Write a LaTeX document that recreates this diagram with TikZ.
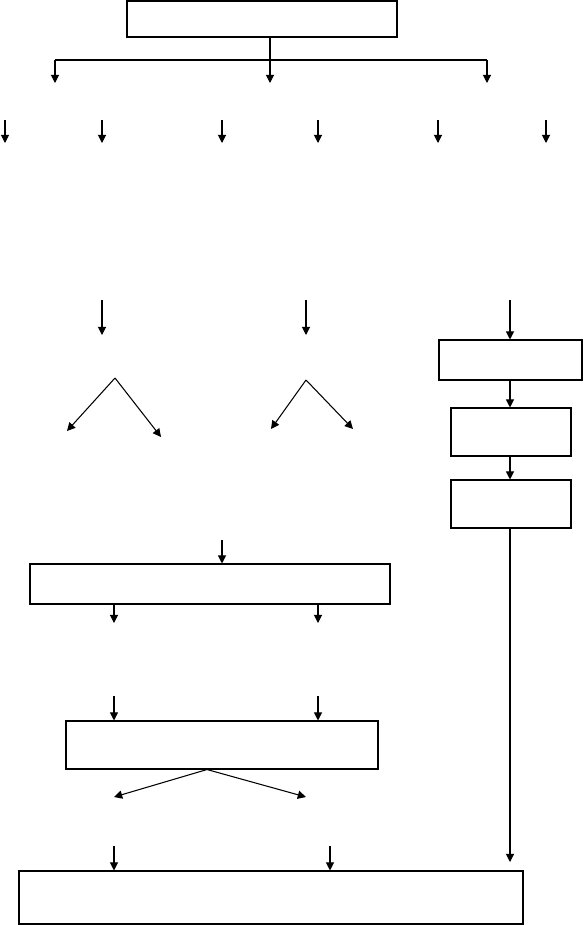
\documentclass[tikz,border=0pt]{standalone}
\usetikzlibrary{arrows.meta,positioning,calc}

\begin{document}
\begin{tikzpicture}[
    x=0.03cm, y=-0.03cm,
    line width=0.9pt,
    >={Triangle[length=7pt, width=7pt]},
    arr/.style={->},
    blank/.style={draw, inner sep=0pt, minimum width=#1},
    blank/.default=3.6cm,
    thinbox/.style={minimum height=1.2cm},
    tallbox/.style={minimum height=1.44cm}
]
    \useasboundingbox (0,0) rectangle (583,925);

    % boxes
    \node[blank=8.1cm, minimum height=1.08cm] (top) at (262,19) {};
    \node[blank=4.29cm, thinbox] (chainA) at (510.5,360) {};
    \node[blank, tallbox] (chainB) at (511,432) {};
    \node[blank, tallbox] (chainC) at (511,504) {};
    \node[blank=10.8cm, thinbox] (mergeA) at (210,584) {};
    \node[blank=9.36cm, tallbox] (mergeB) at (222,745) {};
    \node[blank=15.12cm, minimum height=1.59cm] (final) at (271,897.5) {};

    % top split into three branches
    \coordinate (split) at (270,60);
    \coordinate (splitL) at (55,60);
    \coordinate (splitR) at (487,60);
    \draw (top.south -| split) -- (split);
    \draw (splitL) -- (splitR);
    \draw[arr] (splitL) -- ++(0,23);
    \draw[arr] (split) -- ++(0,23);
    \draw[arr] (splitR) -- ++(0,23);

    % second row of arrows
    \foreach \xx [count=\i] in {5,102,222,318,438,546} {
        \coordinate (rowb\i) at (\xx,120);
        \draw[arr] (rowb\i) -- ++(0,23);
    }

    % third row of arrows
    \coordinate (rowcL) at (102,300);
    \coordinate (rowcM) at (306,300);
    \coordinate (rowcR) at (510,300);
    \draw[arr] (rowcL) -- ++(0,35);
    \draw[arr] (rowcM) -- ++(0,35);
    \draw[arr] (rowcR) -- (rowcR |- chainA.north);

    % forks
    \coordinate (forkL) at (115,378);
    \draw[arr] (forkL) -- (67,431);
    \draw[arr] (forkL) -- (161,437);
    \coordinate (forkM) at (306,380);
    \draw[arr] (forkM) -- (271,429);
    \draw[arr] (forkM) -- (353,429);

    % right chain
    \draw[arr] (chainA.south -| rowcR) -- (chainB.north -| rowcR);
    \draw[arr] (chainB.south -| rowcR) -- (chainC.north -| rowcR);
    \coordinate (chainEnd) at (510,862);
    \draw[arr] (chainC.south -| chainEnd) -- (chainEnd);

    % first merge box
    \coordinate (inA) at (222,540);
    \draw[arr] (inA) -- (inA |- mergeA.north);
    \coordinate (outA1) at (114,623);
    \coordinate (outA2) at (318,623);
    \draw[arr] (outA1 |- mergeA.south) -- (outA1);
    \draw[arr] (outA2 |- mergeA.south) -- (outA2);

    % second merge box
    \coordinate (inB1) at (114,696);
    \coordinate (inB2) at (318,696);
    \draw[arr] (inB1) -- (inB1 |- mergeB.north);
    \draw[arr] (inB2) -- (inB2 |- mergeB.north);
    \coordinate (forkB) at (207,0);
    \draw[arr] (forkB |- mergeB.south) -- (114,797);
    \draw[arr] (forkB |- mergeB.south) -- (306,797);

    % into final box
    \coordinate (inF1) at (114,846);
    \coordinate (inF2) at (330,846);
    \draw[arr] (inF1) -- (inF1 |- final.north);
    \draw[arr] (inF2) -- (inF2 |- final.north);

\end{tikzpicture}
\end{document}
